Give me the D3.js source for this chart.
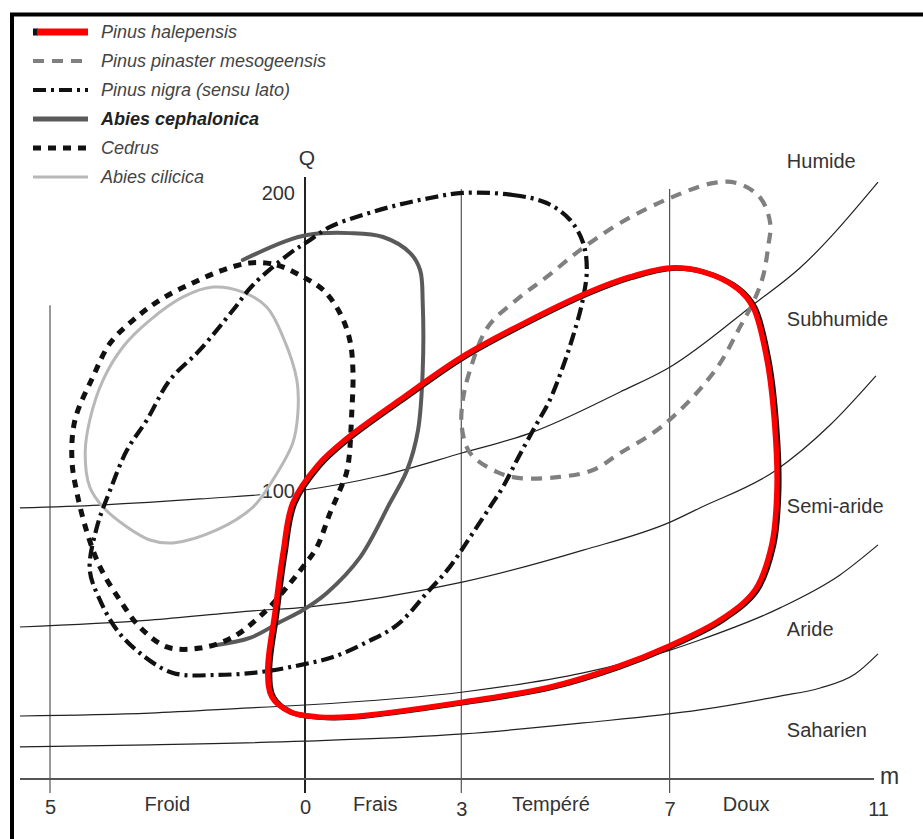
<!DOCTYPE html>
<html>
<head>
<meta charset="utf-8">
<script src="https://cdn.jsdelivr.net/npm/d3@7"></script>
<style>
  html, body { margin: 0; padding: 0; background: #fff; }
  svg { display: block; font-family: "Liberation Sans", Arial, Helvetica, sans-serif; }
</style>
</head>
<body>
<svg id="chart" width="923" height="839"></svg>
<script>
// Emberger climagram: Q (pluviothermic quotient) against m (mean minimum of the coldest month, °C)

// m axis ticks and thermal zones
const mTicks = [-5, 0, 3, 7, 11];
const mTickLabels = ["5", "0", "3", "7", "11"];
const gridM = [-5, 0, 3, 7];
const gridTopQ = [162, 205, 201, 201];
const zoneNames = ["Froid", "Frais", "Tempéré", "Doux"];
const zoneM = [-2.7, 1.35, 4.72, 8.47];

// Q axis ticks
const qTicks = [100, 200];

// bioclimatic stage labels and the Q at which they sit
const stageNames = ["Humide", "Subhumide", "Semi-aride", "Aride", "Saharien"];
const stageQ = [210.5, 157.5, 94.5, 52, 17];
const stageLabelM = 9.25;

// stage boundaries, [m, Q]
const humideSubhumide = [[-5.59, 93.8], [-4.02, 94.8], [-2.06, 96.9], [0, 100], [1.44, 104.7], [3.01, 112.4], [4.32, 119.1], [6.05, 132.9], [7.01, 141.3], [8.6, 162.1], [9.5, 174.5], [11.0, 203.3]];
const subhumideSemiaride = [[-5.59, 52.6], [-3.04, 55.0], [-1.08, 58.1], [0.04, 59.5], [3.04, 68.2], [5.34, 79.2], [7.01, 88.9], [7.58, 93.8], [9.02, 106.4], [10.08, 121.8], [10.96, 138.3]];
const semiarideAride = [[-5.59, 21.8], [-3.04, 22.8], [-1.08, 24.6], [0, 25.6], [3.04, 30.1], [5.34, 36.7], [7.01, 44.6], [7.58, 48.1], [9.12, 59.2], [10.27, 70.6], [11.0, 81.0]];
const arideSaharien = [[-5.59, 11.1], [-3.04, 11.8], [0, 13.1], [3.04, 15.6], [5.34, 19.4], [7.58, 23.9], [9.12, 28.7], [9.89, 31.5], [10.56, 36.3], [11.0, 43.3]];

// species envelopes, [m, Q]
const pinusHalepensis = [[-0.65, 28.4], [-0.73, 37.7], [-0.59, 57.4], [-0.43, 78.2], [-0.24, 95.5], [0.25, 108.4], [0.77, 116.8], [1.82, 130.2], [3.01, 144.6], [4.32, 157.0], [5.41, 166.1], [6.24, 171.5], [7.01, 174.5], [7.64, 173.2], [8.29, 167.8], [8.6, 161.4], [8.87, 143.6], [9.02, 121.1], [9.06, 100.0], [8.96, 81.0], [8.64, 65.4], [7.97, 55.0], [6.95, 45.7], [5.99, 38.8], [4.70, 31.8], [3.03, 26.6], [0.86, 21.5], [0.23, 21.5], [-0.29, 23.2]];
const pinusPinaster = [[8.29, 203.0], [8.73, 198.3], [8.93, 189.6], [8.89, 181.5], [8.79, 171.5], [8.6, 162.8], [8.35, 154.7], [7.97, 142.6], [7.52, 132.6], [7.06, 124.5], [6.68, 119.1], [6.05, 112.4], [5.53, 106.7], [4.89, 104.4], [4.13, 104.0], [3.69, 106.0], [3.17, 112.4], [3.01, 121.1], [3.03, 130.2], [3.17, 140.3], [3.51, 154.7], [4.13, 164.8], [4.64, 171.5], [5.28, 180.5], [6.05, 189.6], [7.01, 198.0], [7.83, 203.0]];
const pinusNigra = [[3.03, 199.7], [3.99, 199.0], [4.64, 196.3], [5.09, 190.6], [5.34, 182.9], [5.41, 173.8], [5.32, 162.8], [5.14, 151.3], [4.95, 141.3], [4.70, 130.2], [4.38, 120.1], [4.07, 110.1], [3.80, 101.0], [3.55, 94.1], [3.17, 83.7], [2.78, 73.4], [2.34, 64.4], [1.77, 53.3], [1.19, 47.4], [0.54, 42.2], [-0.1, 39.4], [-0.88, 37.0], [-1.73, 36.0], [-2.59, 36.7], [-3.24, 43.6], [-3.69, 51.6], [-4.02, 61.9], [-4.22, 72.3], [-4.08, 87.2], [-3.82, 100.0], [-3.49, 113.4], [-3.1, 123.5], [-2.65, 136.9], [-2.06, 147.0], [-1.41, 160.4], [-1.02, 168.8], [-0.29, 179.5], [0.04, 183.2], [0.48, 188.3], [1.11, 192.3], [1.77, 195.6], [2.40, 198.0]];
const abiesCephalonica = [[-1.73, 46.4], [-1.08, 48.8], [-0.49, 54.3], [-0.04, 58.5], [0.42, 64.4], [1.06, 76.8], [1.63, 95.5], [1.96, 106.7], [2.17, 120.1], [2.26, 140.3], [2.26, 162.8], [2.21, 173.8], [2.02, 179.5], [1.50, 184.9], [0.86, 186.2], [0.04, 185.6], [-0.43, 183.2], [-1.22, 177.2]];
const cedrus = [[-1.08, 176.2], [-0.55, 175.5], [-0.04, 171.5], [0.35, 167.1], [0.67, 159.4], [0.86, 150.3], [0.92, 140.3], [0.9, 126.8], [0.81, 106.7], [0.67, 100.0], [0.48, 92.0], [0.23, 80.3], [-0.04, 73.4], [-0.29, 67.8], [-0.75, 58.5], [-1.41, 49.1], [-2.06, 45.3], [-2.71, 45.7], [-3.24, 52.6], [-3.63, 61.9], [-4.02, 73.4], [-4.27, 85.1], [-4.47, 98.9], [-4.57, 110.1], [-4.51, 123.5], [-4.16, 137.9], [-3.82, 149.3], [-3.37, 157.0], [-2.84, 163.8], [-2.2, 169.5], [-1.61, 173.8]];
const abiesCilicica = [[-1.8, 168.1], [-1.22, 166.4], [-0.75, 161.4], [-0.43, 151.3], [-0.16, 136.9], [-0.14, 125.8], [-0.24, 115.8], [-0.63, 103.4], [-1.02, 94.1], [-1.73, 86.2], [-2.59, 81.7], [-3.04, 82.7], [-3.49, 87.2], [-3.96, 94.1], [-4.22, 101.0], [-4.31, 112.4], [-4.22, 123.5], [-3.96, 136.9], [-3.57, 148.0], [-3.04, 157.0], [-2.39, 164.8]];

const legendNames = ["Pinus halepensis", "Pinus pinaster mesogeensis", "Pinus nigra (sensu lato)", "Abies cephalonica", "Cedrus", "Abies cilicica"];

// line styles
const styles = {
  halepensis: { stroke: "#ff0000", width: 5.5, dash: null },
  pinaster: { stroke: "#808080", width: 4.2, dash: "11,8" },
  nigra: { stroke: "#111", width: 4.2, dash: "13,5,3,5" },
  cephalonica: { stroke: "#5a5a5a", width: 4, dash: null },
  cedrus: { stroke: "#111", width: 5, dash: "8,7" },
  cilicica: { stroke: "#b8b8b8", width: 3, dash: null }
};
const legendStyles = [styles.halepensis, styles.pinaster, styles.nigra, styles.cephalonica, styles.cedrus, styles.cilicica];

const svg = d3.select("#chart");
const W = 923, H = 839;

svg.append("rect").attr("width", W).attr("height", H).attr("fill", "#fff");

const x = d3.scaleLinear().domain([-5, 0, 11]).range([50, 305, 878]);
const y = d3.scaleLinear().domain([0, 100, 200]).range([779, 490, 192]);

const stageLine = d3.line().x(d => x(d[0])).y(d => y(d[1])).curve(d3.curveMonotoneX);
const openLine = d3.line().x(d => x(d[0])).y(d => y(d[1])).curve(d3.curveCatmullRom.alpha(0.5));
const closedLine = d3.line().x(d => x(d[0])).y(d => y(d[1])).curve(d3.curveCatmullRomClosed.alpha(0.5));

// frame (only top and left edges fall inside the page)
svg.append("rect")
  .attr("x", 12).attr("y", 14.5)
  .attr("width", 2000).attr("height", 2000)
  .attr("fill", "none").attr("stroke", "#000").attr("stroke-width", 4);

// vertical m grid lines
const grid = svg.append("g");
grid.selectAll("line").data(gridM).join("line")
  .attr("x1", d => x(d)).attr("x2", d => x(d))
  .attr("y1", (d, i) => y(gridTopQ[i]))
  .attr("y2", y(0) + 14)
  .attr("stroke", d => d === 0 ? "#222" : "#444")
  .attr("stroke-width", d => d === 0 ? 2 : 1.1);

// stage boundaries
const stages = svg.append("g");
[humideSubhumide, subhumideSemiaride, semiarideAride, arideSaharien].forEach(pts => {
  stages.append("path").attr("d", stageLine(pts))
    .attr("fill", "none").attr("stroke", "#222").attr("stroke-width", 1.2);
});

// m axis
svg.append("line")
  .attr("x1", 20).attr("x2", 874)
  .attr("y1", y(0)).attr("y2", y(0))
  .attr("stroke", "#555").attr("stroke-width", 2.2);
svg.append("text").attr("x", 880).attr("y", y(0) + 5)
  .attr("font-size", 23).attr("fill", "#333").text("m");

const xAxis = d3.axisBottom(x).tickValues(mTicks)
  .tickFormat((d, i) => mTickLabels[i]).tickSize(0).tickPadding(0);
const xAxisG = svg.append("g").attr("transform", `translate(0,${y(0) + 25})`).call(xAxis);
xAxisG.select(".domain").remove();
xAxisG.selectAll("text").attr("font-size", 20).attr("fill", "#333")
  .attr("font-family", "'Liberation Sans', Arial, sans-serif")
  .attr("dy", (d) => (d === 0 || d === -5) ? "0.5em" : "0.62em");

// thermal zones
svg.append("g").selectAll("text").data(zoneNames).join("text")
  .attr("x", (d, i) => x(zoneM[i])).attr("y", y(0) + 32)
  .attr("text-anchor", "middle").attr("font-size", 20).attr("fill", "#333")
  .text(d => d);

// Q axis labels
const yAxis = d3.axisLeft(y).tickValues(qTicks).tickSize(0).tickPadding(10);
const yAxisG = svg.append("g").attr("transform", `translate(${x(0)},0)`).call(yAxis);
yAxisG.select(".domain").remove();
yAxisG.selectAll("text").attr("font-size", 20).attr("fill", "#333")
  .attr("font-family", "'Liberation Sans', Arial, sans-serif")
  .attr("stroke", "#fff").attr("stroke-width", 6).attr("paint-order", "stroke")
  .attr("dy", "0.36em");
svg.append("text").attr("x", x(0) + 2).attr("y", y(0) - 614)
  .attr("text-anchor", "middle").attr("font-size", 21).attr("fill", "#333").text("Q");

// stage labels
svg.append("g").selectAll("text").data(stageNames).join("text")
  .attr("x", x(stageLabelM)).attr("y", (d, i) => y(stageQ[i]))
  .attr("dy", "0.36em").attr("font-size", 20).attr("fill", "#333")
  .text(d => d);

// species envelopes
function envelope(pts, st, closed) {
  const p = svg.append("path").attr("d", (closed ? closedLine : openLine)(pts))
    .attr("fill", "none").attr("stroke", st.stroke).attr("stroke-width", st.width)
    .attr("stroke-linejoin", "round");
  if (st.dash) p.attr("stroke-dasharray", st.dash);
  return p;
}
envelope(abiesCilicica, styles.cilicica, true);
envelope(abiesCephalonica, styles.cephalonica, false).attr("stroke-linecap", "round");
envelope(cedrus, styles.cedrus, true);
envelope(pinusNigra, styles.nigra, true);
envelope(pinusPinaster, styles.pinaster, true);
// dark under-stroke of the Aleppo pine envelope
envelope(pinusHalepensis, { stroke: "#111", width: 5, dash: null }, true)
  .attr("transform", "translate(2,0.5)");
envelope(pinusHalepensis, styles.halepensis, true);

// legend
const legend = svg.append("g");
const rowY = d3.scaleLinear().domain([0, 5]).range([32, 177]);
legendNames.forEach((name, i) => {
  const st = legendStyles[i];
  const g = legend.append("g").attr("transform", `translate(0,${rowY(i)})`);
  if (i === 0) {
    g.append("line").attr("x1", 33).attr("x2", 38).attr("y1", 0).attr("y2", 0)
      .attr("stroke", "#111").attr("stroke-width", 7);
    g.append("line").attr("x1", 37).attr("x2", 88).attr("y1", 0).attr("y2", 0)
      .attr("stroke", st.stroke).attr("stroke-width", 7);
  } else {
    const l = g.append("line").attr("x1", 33).attr("x2", 88).attr("y1", 0).attr("y2", 0)
      .attr("stroke", st.stroke).attr("stroke-width", i === 3 ? 5 : st.width);
    if (st.dash) l.attr("stroke-dasharray", st.dash);
  }
  g.append("text").attr("x", 101).attr("y", 0).attr("dy", "0.36em")
    .attr("font-size", 18).attr("font-style", "italic")
    .attr("font-weight", i === 3 ? 700 : 400)
    .attr("fill", i === 3 ? "#222" : "#444")
    .text(name);
});
</script>
</body>
</html>
